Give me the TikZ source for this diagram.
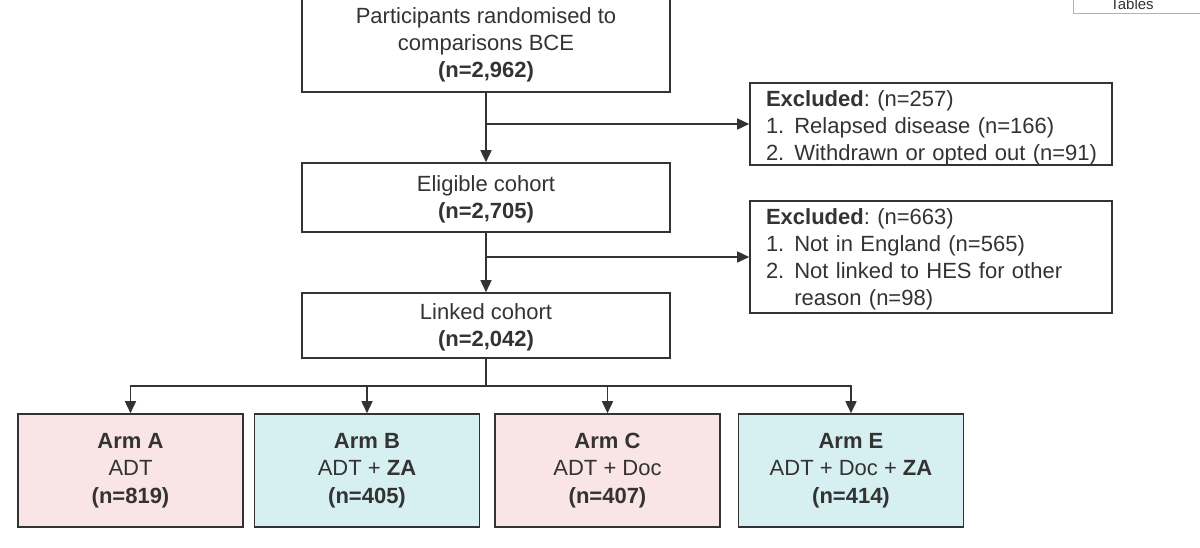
\documentclass[tikz,border=0pt]{standalone}
\usepackage{fontspec}
\setmainfont{Liberation Sans}
\usetikzlibrary{arrows.meta}
\definecolor{inkgray}{HTML}{333333}
\definecolor{armpink}{HTML}{F9E4E6}
\definecolor{armcyan}{HTML}{D6EFF1}
\newcommand{\lowerby}[2]{\raisebox{-#1}[\height][\depth]{#2}}
\frenchspacing

\begin{document}
\begin{tikzpicture}[x=1pt, y=-1pt,
    stage/.style={draw=inkgray, line width=1.6pt, fill=white, text=inkgray,
      minimum width=368pt, align=center, inner sep=0pt,
      font=\fontsize{22}{27}\selectfont},
    excl/.style={draw=inkgray, line width=1.6pt, fill=white, text=inkgray,
      text width=330pt, inner xsep=16pt, inner ysep=0pt, align=left,
      font=\fontsize{22}{27}\selectfont},
    arm/.style={draw=inkgray, line width=1.6pt, text=inkgray,
      minimum width=225pt, minimum height=113pt, align=center,
      font=\fontsize{22}{27.5}\selectfont},
    flow/.style={draw=inkgray, line width=1.6pt, -{Triangle[length=12pt, width=11pt]}}]
  % \draw[help lines, gray!50, very thin] (0,0) grid[step=50] (1200,547);
  \useasboundingbox (0,0) rectangle (1200,547);
  \clip (0,0) rectangle (1200,547);
  \fill[white] (0,0) rectangle (1200,547);

  % slide tab at the top edge
  \node[draw=gray!60, line width=0.8pt, minimum width=160pt, minimum height=30pt] (tabs) at (1153,-2) {};
  \node[font=\fontsize{15}{17}\selectfont, text=inkgray, anchor=base] (tabtext) at (1132,9.5) {Tables};

  % main column
  \node[stage, minimum height=98pt] (rand) at (486,43)
    {\lowerby{2pt}{\begin{tabular}{@{}c@{}}Participants randomised to\\comparisons BCE\\\textbf{(n=2,962)}\end{tabular}}};
  \node[stage, minimum height=69pt] (elig) at (486,197.5)
    {\lowerby{2pt}{\begin{tabular}{@{}c@{}}Eligible cohort\\\textbf{(n=2,705)}\end{tabular}}};
  \node[stage, minimum height=65pt] (link) at (486,325.5)
    {\lowerby{2pt}{\begin{tabular}{@{}c@{}}Linked cohort\\\textbf{(n=2,042)}\end{tabular}}};

  % exclusions
  \node[excl, minimum height=82pt] (exA) at (931,124)
    {\lowerby{4pt}{\begin{tabular}{@{}l@{\hspace{10pt}}l@{}}
      \multicolumn{2}{@{}l}{\textbf{Excluded}: (n=257)}\\
      1. & Relapsed disease (n=166)\\
      2. & Withdrawn or opted out (n=91)
    \end{tabular}}};
  \node[excl, minimum height=112pt] (exB) at (931,257)
    {\lowerby{3pt}{\begin{tabular}{@{}l@{\hspace{10pt}}l@{}}
      \multicolumn{2}{@{}l}{\textbf{Excluded}: (n=663)}\\
      1. & Not in England (n=565)\\
      2. & Not linked to HES for other\\
         & reason (n=98)
    \end{tabular}}};

  % arms
  \node[arm, fill=armpink] (armA) at (130.5,470.5) {\textbf{Arm A}\\ADT\\\textbf{(n=819)}};
  \node[arm, fill=armcyan] (armB) at (367,470.5) {\textbf{Arm B}\\ADT + \textbf{ZA}\\\textbf{(n=405)}};
  \node[arm, fill=armpink] (armC) at (607.5,470.5) {\textbf{Arm C}\\ADT + Doc\\\textbf{(n=407)}};
  \node[arm, fill=armcyan] (armE) at (851,470.5) {\textbf{Arm E}\\ADT + Doc + \textbf{ZA}\\\textbf{(n=414)}};

  % connectors
  \draw[flow] (rand) -- (elig);
  \draw[flow] (elig) -- (link);
  \draw[flow] (rand.south |- exA.west) -- (exA.west);
  \draw[flow] (elig.south |- exB.west) -- (exB.west);
  \coordinate (split) at (486,386);
  \draw[draw=inkgray, line width=1.6pt] (link) -- (split);
  \foreach \a in {armA,armB,armC,armE}
    \draw[flow] (split) -| (\a.north);
\end{tikzpicture}
\end{document}
